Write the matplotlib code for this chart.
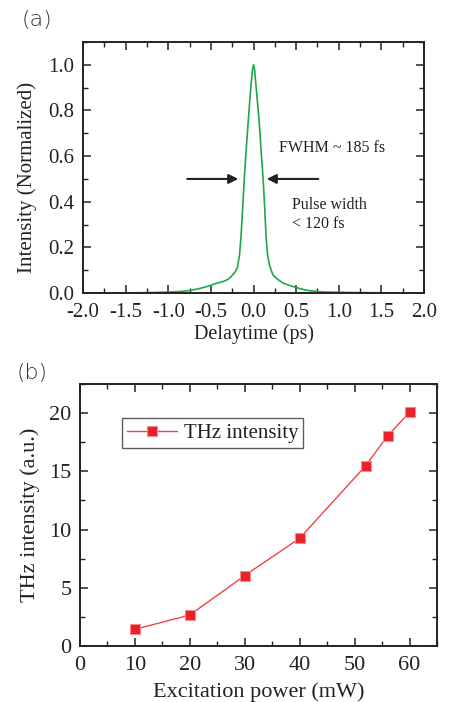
import matplotlib
matplotlib.use('Agg')
import matplotlib.pyplot as plt
from matplotlib.ticker import MultipleLocator

plt.rcParams['font.family'] = ['Liberation Serif', 'DejaVu Serif']
plt.rcParams['text.color'] = '#222222'
plt.rcParams['axes.labelcolor'] = '#222222'

# (a) autocorrelation trace
delay = [-2.0, -1.5, -1.2, -1.0, -0.85, -0.75, -0.65, -0.55, -0.5, -0.45, -0.4,
         -0.35, -0.3, -0.26, -0.22, -0.19, -0.164, -0.148, -0.125, -0.109, -0.09,
         -0.062, -0.032, -0.012, 0.0, 0.012, 0.031, 0.066, 0.092, 0.113, 0.129,
         0.148, 0.164, 0.185, 0.203, 0.226, 0.275, 0.345, 0.4, 0.45, 0.5, 0.6,
         0.66, 0.8, 0.9, 1.2, 1.5, 2.0]
intensity = [0.0, 0.0, 0.002, 0.004, 0.007, 0.011, 0.018, 0.028, 0.034, 0.041, 0.046,
             0.051, 0.060, 0.073, 0.090, 0.11, 0.168, 0.241, 0.387, 0.497, 0.607,
             0.753, 0.90, 0.98, 1.0, 0.98, 0.90, 0.753, 0.607, 0.497, 0.387,
             0.241, 0.168, 0.125, 0.105, 0.08, 0.062, 0.044, 0.036, 0.030, 0.024, 0.014,
             0.010, 0.005, 0.004, 0.002, 0.001, 0.0]

# (b) THz intensity vs excitation power
power = [10, 20, 30, 40, 52, 56, 60]
thz = [1.43, 2.66, 6.05, 9.25, 15.47, 18.05, 20.06]

fig = plt.figure(figsize=(4.5, 7.02), dpi=100)

def style(ax, size):
    ax.tick_params(which='both', direction='in', top=True, right=True,
                   labelsize=size, colors='#222222')
    ax.tick_params(axis='x', which='both', pad=7.5)
    ax.tick_params(axis='y', which='both', pad=6)
    ax.tick_params(which='major', length=6, width=1.1)
    ax.tick_params(which='minor', length=3.5, width=1.0)
    for s in ax.spines.values():
        s.set_linewidth(1.4)
        s.set_color('#222222')

ax1 = fig.add_axes([0.1844, 0.5826, 0.758, 0.3575])
ax1.plot(delay, intensity, color='#1fa84a', lw=1.2)
ax1.set_xlim(-2, 2)
ax1.set_ylim(0, 1.1)
ax1.xaxis.set_major_locator(MultipleLocator(0.5))
ax1.xaxis.set_minor_locator(MultipleLocator(0.25))
ax1.yaxis.set_major_locator(MultipleLocator(0.2))
ax1.yaxis.set_minor_locator(MultipleLocator(0.1))
ax1.xaxis.set_major_formatter(lambda v, p: '%.1f' % v)
ax1.yaxis.set_major_formatter(lambda v, p: '%.1f' % v)
style(ax1, 15)
ax1.set_xlabel('Delaytime (ps)', fontsize=14.5, labelpad=1)
ax1.set_ylabel('Intensity (Normalized)', fontsize=15)
ax1.yaxis.set_label_coords(-0.135, 0.46)

ax1.annotate('', xy=(-0.179, 0.5), xytext=(-0.777, 0.5),
             arrowprops=dict(arrowstyle='-|>', color='#222222', lw=1.5,
                             mutation_scale=14, shrinkA=0, shrinkB=0))
ax1.annotate('', xy=(0.155, 0.5), xytext=(0.76, 0.5),
             arrowprops=dict(arrowstyle='-|>', color='#222222', lw=1.5,
                             mutation_scale=14, shrinkA=0, shrinkB=0))
ax1.text(0.30, 0.617, 'FWHM ~ 185 fs', fontsize=11.5, va='baseline')
ax1.text(0.45, 0.286, 'Pulse width\n< 120 fs', fontsize=11.5, va='baseline',
         linespacing=1.25)

ax2 = fig.add_axes([0.1778, 0.0798, 0.7933, 0.3732])
ax2.plot(power, thz, color='#ee4444', lw=1.0, marker='s', markersize=6.5,
         markerfacecolor='#e8202a', markeredgecolor='#f58a8a', markeredgewidth=0.8,
         label='THz intensity')
ax2.set_xlim(0, 65)
ax2.set_ylim(0, 22.5)
ax2.xaxis.set_major_locator(MultipleLocator(10))
ax2.xaxis.set_minor_locator(MultipleLocator(5))
ax2.yaxis.set_major_locator(MultipleLocator(5))
ax2.yaxis.set_minor_locator(MultipleLocator(2.5))
style(ax2, 16)
ax2.set_xlabel('Excitation power (mW)', fontsize=16, labelpad=5)
ax2.set_ylabel('THz intensity (a.u.)', fontsize=16, labelpad=7)
leg = ax2.legend(loc='upper left', bbox_to_anchor=(0.118, 0.87), fontsize=15,
                 fancybox=False, borderaxespad=0, handlelength=2.4,
                 borderpad=0.25, handletextpad=0.3)
leg.get_frame().set_edgecolor('#333333')
leg.get_frame().set_linewidth(1.0)

fig.text(0.049, 0.9715, '(a)', family='DejaVu Sans', fontsize=16,
         va='center', color='#333333', fontweight='light')
fig.text(0.038, 0.4687, '(b)', family='DejaVu Sans', fontsize=16,
         va='center', color='#333333', fontweight='light')

fig.savefig('out.png', dpi=100)
